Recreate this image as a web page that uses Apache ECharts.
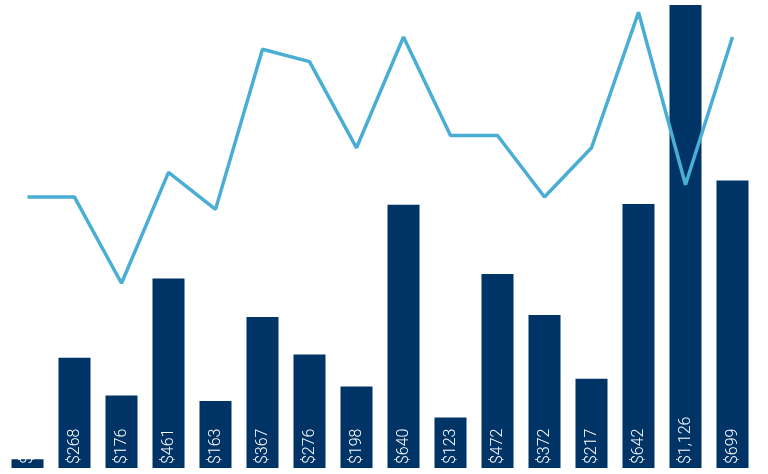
<!DOCTYPE html>
<html><head><meta charset="utf-8">
<script src="https://cdn.jsdelivr.net/npm/echarts@6/dist/echarts.min.js"></script>
<style>html,body{margin:0;background:#fff}#c{width:768px;height:474px}</style>
</head><body><div id="c"></div>
<script>
var categories = ['1','2','3','4','5','6','7','8','9','10','11','12','13','14','15','16'];
var amounts = [21, 268, 176, 461, 163, 367, 276, 198, 640, 123, 472, 372, 217, 642, 1126, 699];
var counts = [22, 22, 15, 24, 21, 34, 33, 26, 35, 27, 27, 22, 26, 37, 23, 35];

var chart = echarts.init(document.getElementById('c'));
chart.setOption({
  animation: false,
  grid: { left: 4, right: 12, top: 0, bottom: 6 },
  xAxis: { type: 'category', data: categories, show: false },
  yAxis: [
    { type: 'value', min: 0, max: 1138, show: false },
    { type: 'value', min: 0, max: 38, show: false }
  ],
  series: [
    {
      type: 'bar', data: amounts, barWidth: 32,
      itemStyle: { color: '#003366' },
      label: {
        show: true, position: 'insideBottom', rotate: 90, align: 'left', verticalAlign: 'middle',
        distance: 4, color: '#fff', fontFamily: 'Roboto', fontWeight: 300, fontSize: 16,
        formatter: function (p) { return '$' + p.value.toLocaleString('en-US'); }
      }
    },
    {
      type: 'line', yAxisIndex: 1, data: counts, symbol: 'none',
      lineStyle: { color: '#4aaed4', width: 3.5 },
      label: { show: true, position: 'top', distance: 10, color: '#5ab4d6',
        fontFamily: 'Roboto', fontWeight: 300, fontSize: 16 }
    }
  ]
});
</script></body></html>
